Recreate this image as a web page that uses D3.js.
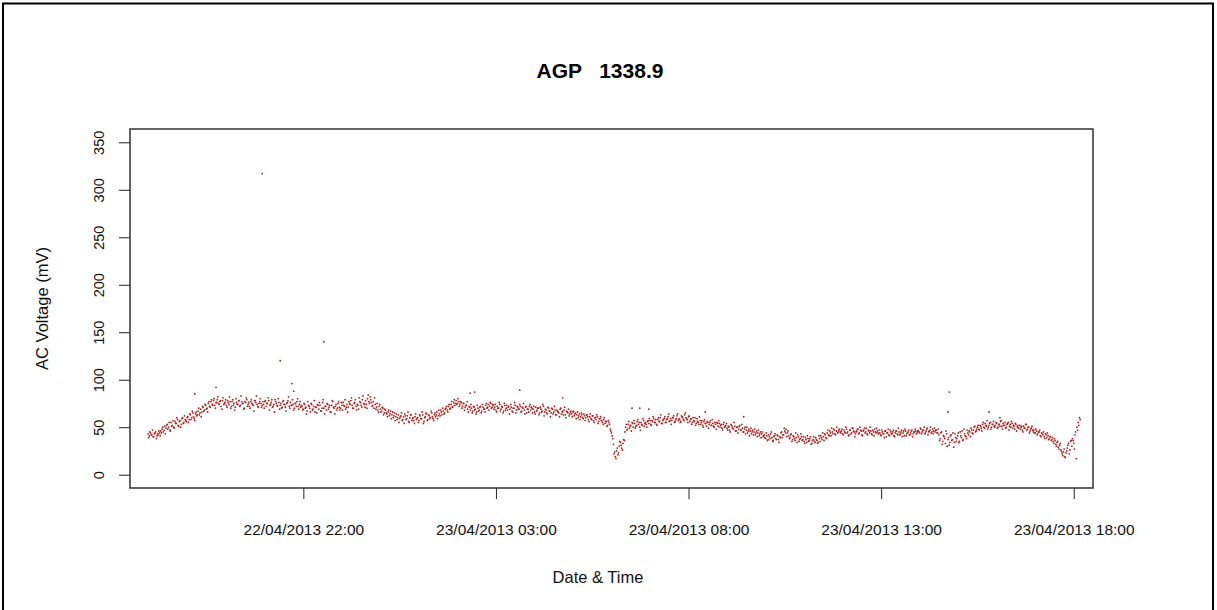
<!DOCTYPE html>
<html>
<head>
<meta charset="utf-8">
<script src="https://cdn.jsdelivr.net/npm/d3@7"></script>
<style>
  body { margin: 0; background: #fff; }
  svg text { font-family: "Liberation Sans", Arial, sans-serif; }
</style>
</head>
<body>
<div id="chart"></div>
<script>
// Readings on even minutes, every 2 minutes from 22/04/2013 17:58
const startEven = '22/04/2013 17:58';
const voltageEven = [
  43,41,44,42,40,43,45,41,42,44,46,48,45,51,49,53,50,47,55,52,50,56,54,58,51,57,53,60,55,58,
  56,61,58,63,60,65,59,64,62,67,63,69,66,71,68,73,70,75,72,77,74,78,73,76,79,75,77,72,78,74,
  76,73,78,74,77,72,79,75,71,76,74,78,73,77,75,70,76,79,74,72,77,75,73,78,76,74,71,77,75,73,
  74,77,72,75,78,73,76,71,74,79,75,72,76,73,70,77,74,71,75,78,72,76,73,74,70,75,77,72,74,71,
  72,69,74,71,67,73,70,75,68,72,66,71,74,69,73,67,76,70,72,68,74,71,66,73,77,70,72,68,75,71,
  70,73,76,72,69,74,71,75,78,73,70,76,72,74,69,77,73,79,75,71,74,80,77,82,76,73,70,74,71,68,
  72,69,67,70,65,68,64,66,62,67,63,60,65,61,58,63,59,62,57,61,64,58,62,56,60,63,59,57,61,58,
  60,57,62,59,63,56,61,64,58,62,60,65,59,63,61,66,62,64,68,63,67,65,70,68,72,69,74,71,76,73,
  78,75,77,74,76,72,75,71,73,69,72,68,70,67,71,69,66,70,68,72,67,71,69,73,70,74,72,75,71,73,
  71,68,72,70,74,69,71,67,73,70,68,72,69,71,66,70,73,68,71,69,72,67,70,68,71,65,69,72,68,70,
  69,66,71,68,70,65,69,67,72,66,68,64,70,67,65,69,66,68,63,67,65,69,64,66,68,63,67,65,62,66,
  64,66,62,65,63,60,64,61,63,59,62,60,63,58,61,59,62,57,60,58,61,56,59,57,55,58,54,56,52,55,
  48,44,38,22,19,25,21,30,34,28,33,36,50,47,53,49,52,55,50,54,51,56,53,50,55,52,57,54,53,56,
  54,57,52,56,59,55,53,58,56,60,54,57,59,55,58,61,56,59,57,60,55,58,62,57,59,56,61,58,63,60,
  58,61,56,59,55,57,60,54,56,53,57,55,52,56,54,51,55,53,57,52,54,50,53,55,51,54,52,49,53,50,
  52,49,51,47,53,50,48,51,46,50,48,52,47,49,45,50,47,44,48,46,43,47,45,42,46,44,41,45,43,40,
  42,38,41,37,40,43,39,36,41,38,42,37,40,44,39,42,46,48,44,41,39,43,37,40,36,39,42,35,38,40,
  37,35,39,34,38,36,40,33,37,35,39,36,34,38,41,37,40,43,39,44,42,46,41,45,48,43,46,44,47,45,
  46,43,47,44,48,45,42,47,44,49,45,43,46,48,44,47,42,46,49,45,43,47,44,46,42,45,48,44,46,43,
  44,41,45,43,46,40,44,42,47,43,45,41,44,46,42,45,43,47,44,41,46,43,45,42,44,47,43,45,46,44,
  46,44,48,45,47,43,46,49,45,47,44,48,46,45,47,44,42,38,45,35,40,33,43,37,31,41,36,44,34,39,
  38,44,35,41,46,37,43,40,47,42,45,49,44,47,51,46,50,48,52,49,53,50,54,51,48,52,55,50,53,51,
  52,54,50,53,56,51,54,52,49,53,55,51,50,54,52,48,53,51,49,52,50,47,51,49,53,48,50,46,49,47,
  47,44,46,43,45,41,44,42,40,43,39,41,38,40,37,35,38,32,34,29,31,26,22,24,19,23,28,33,26,36,
  38,33,42,17,47,52,58
];

// Readings on odd minutes, every 2 minutes from 22/04/2013 17:59
const startOdd = '22/04/2013 17:59';
const voltageOdd = [
  39,45,42,47,40,44,38,43,46,41,44,50,47,43,52,48,55,46,51,57,49,54,60,52,56,50,59,54,62,57,
  60,55,64,58,67,61,57,66,63,70,65,61,72,67,74,69,66,77,71,79,73,80,70,76,82,74,78,69,81,75,
  79,71,76,82,70,77,73,68,80,74,78,72,83,75,69,77,81,72,76,70,79,74,67,78,83,72,75,80,71,77,
  70,78,75,81,68,74,79,72,66,77,73,80,69,75,71,78,74,67,76,82,70,73,79,68,75,72,80,69,77,73,
  68,75,70,64,77,72,66,74,69,78,71,65,73,76,67,70,79,64,72,75,69,73,66,78,71,64,74,70,77,68,
  76,68,73,79,71,66,77,74,81,70,75,79,68,73,81,76,71,83,74,78,70,84,75,79,72,77,81,69,75,66,
  74,66,71,63,69,65,61,68,64,59,66,62,57,64,60,55,61,65,58,54,62,59,66,55,63,57,60,54,64,59,
  55,63,59,66,54,60,65,57,63,59,67,61,57,65,63,59,68,62,66,70,64,69,72,66,74,70,77,72,79,75,
  74,80,72,77,70,75,68,73,77,66,71,74,65,72,68,64,73,67,71,65,74,69,66,75,71,68,76,70,74,69,
  74,66,70,76,67,72,65,75,68,73,71,64,74,67,70,76,65,72,69,74,66,71,75,64,72,69,66,74,71,65,
  72,64,67,70,63,71,66,74,62,69,65,71,67,61,70,64,72,63,68,66,61,70,67,63,71,60,66,69,64,67,
  61,67,64,59,66,62,58,65,60,64,57,63,61,56,64,58,62,55,60,63,54,59,61,57,53,60,56,51,57,53,
  46,41,32,24,17,28,23,35,31,26,37,45,53,48,56,51,46,54,57,49,52,58,55,47,53,59,51,55,50,57,
  59,53,57,61,55,58,52,60,56,63,54,58,61,55,59,64,57,53,60,62,56,59,64,58,55,62,60,57,65,59,
  55,62,58,53,60,56,52,59,55,61,53,57,50,58,54,56,49,55,52,58,51,55,48,54,57,50,53,47,55,51,
  54,47,50,45,52,49,55,46,50,44,51,47,53,45,48,43,50,46,41,49,45,42,48,44,40,47,43,39,45,41,
  39,44,36,42,38,45,35,40,43,37,41,34,39,45,42,49,44,40,46,38,42,35,41,38,44,34,40,37,43,36,
  40,33,37,41,35,38,32,36,40,34,37,33,41,35,39,44,36,42,38,47,41,44,49,43,47,42,50,45,48,44,
  48,42,45,50,44,41,47,43,49,46,40,45,48,43,50,46,41,47,44,49,42,46,50,43,47,41,45,49,44,47,
  42,47,43,39,46,44,48,41,45,43,47,40,46,43,49,42,45,40,46,48,41,44,47,42,46,40,45,48,43,46,
  45,49,43,47,50,44,48,42,46,50,45,43,49,47,44,48,36,44,32,41,38,46,30,39,34,42,37,29,43,35,
  41,34,45,39,36,48,41,38,44,46,40,47,43,50,45,48,52,47,51,46,55,49,52,57,50,54,48,53,56,50,
  55,49,53,51,57,48,52,55,50,54,47,53,56,49,51,54,46,50,52,48,51,45,49,53,47,50,44,48,51,45,
  44,48,42,45,47,40,43,45,38,42,44,37,40,36,39,33,36,30,35,27,33,24,20,27,18,25,31,22,35,30,
  36,27,45,50,55,60
];
const stepMinutes = 2;

// Isolated readings off the main band
const spikeTimes = [
  '22/04/2013 19:11', '22/04/2013 19:44', '22/04/2013 20:56', '22/04/2013 21:24',
  '22/04/2013 21:42', '22/04/2013 21:45', '22/04/2013 22:32', '23/04/2013 02:20',
  '23/04/2013 02:27', '23/04/2013 03:37', '23/04/2013 04:44', '23/04/2013 06:32',
  '23/04/2013 06:44', '23/04/2013 06:58', '23/04/2013 08:26', '23/04/2013 09:26',
  '23/04/2013 14:44', '23/04/2013 14:46', '23/04/2013 15:48', '23/04/2013 16:05'
];
const spikeValues = [85, 92, 317, 120, 96, 88, 140, 86, 87, 89, 81, 70, 70, 69, 66, 61, 66, 87, 66, 60];

const xTickLabels = ['22/04/2013 22:00', '23/04/2013 03:00', '23/04/2013 08:00', '23/04/2013 13:00', '23/04/2013 18:00'];
const yTickValues = [0, 50, 100, 150, 200, 250, 300, 350];
const xRange = ['22/04/2013 17:30', '23/04/2013 18:30'];

const parse = d3.timeParse('%d/%m/%Y %H:%M');
const fmt = d3.timeFormat('%d/%m/%Y %H:%M');

const series = (start, vals) => {
  const t0 = parse(start);
  return vals.map((v, i) => ({ t: d3.timeMinute.offset(t0, i * stepMinutes), v }));
};
const points = series(startEven, voltageEven)
  .concat(series(startOdd, voltageOdd))
  .concat(spikeTimes.map((s, i) => ({ t: parse(s), v: spikeValues[i] })));

const W = 1217, H = 610;
const plot = { left: 130, right: 1093, top: 129, bottom: 488 };

const svg = d3.select('#chart')
  .append('svg')
  .attr('width', W)
  .attr('height', H);

// Outer frame
svg.append('rect')
  .attr('x', 3).attr('y', 3.5)
  .attr('width', 1210).attr('height', 640)
  .attr('fill', 'none')
  .attr('stroke', '#000')
  .attr('stroke-width', 2);

const x = d3.scaleTime()
  .domain(xRange.map(parse))
  .range([plot.left, plot.right]);

const y = d3.scaleLinear()
  .domain([-14, 364])
  .range([plot.bottom, plot.top]);

// Points
svg.append('g')
  .selectAll('circle')
  .data(points)
  .join('circle')
  .attr('cx', d => x(d.t))
  .attr('cy', d => y(d.v))
  .attr('r', 0.9)
  .attr('fill', '#b01e1e');

// X axis
const xAxis = svg.append('g')
  .attr('transform', `translate(0,${plot.bottom})`)
  .call(d3.axisBottom(x)
    .tickValues(xTickLabels.map(parse))
    .tickFormat(fmt)
    .tickSize(11)
    .tickSizeOuter(0));
xAxis.select('.domain').remove();
xAxis.selectAll('line').attr('stroke', '#222');
xAxis.selectAll('text')
  .attr('y', 47)
  .attr('dy', 0)
  .attr('font-size', '15.5px')
  .attr('font-family', '"Liberation Sans", Arial, sans-serif')
  .attr('fill', '#111');

// Y axis
const yAxis = svg.append('g')
  .attr('transform', `translate(${plot.left},0)`)
  .call(d3.axisLeft(y)
    .tickValues(yTickValues)
    .tickSize(11)
    .tickSizeOuter(0));
yAxis.select('.domain').remove();
yAxis.selectAll('line').attr('stroke', '#222');
yAxis.selectAll('text')
  .attr('transform', 'rotate(-90)')
  .attr('x', 0)
  .attr('y', -26)
  .attr('dy', 0)
  .attr('text-anchor', 'middle')
  .attr('font-size', '14.5px')
  .attr('font-family', '"Liberation Sans", Arial, sans-serif')
  .attr('fill', '#111');

// Plot box
svg.append('rect')
  .attr('x', plot.left).attr('y', plot.top)
  .attr('width', plot.right - plot.left)
  .attr('height', plot.bottom - plot.top)
  .attr('fill', 'none')
  .attr('stroke', '#333')
  .attr('stroke-width', 1.5);

// Titles
svg.append('text')
  .attr('x', 600)
  .attr('y', 78)
  .attr('text-anchor', 'middle')
  .attr('font-size', '21px')
  .attr('font-weight', 'bold')
  .style('white-space', 'pre')
  .text('AGP   1338.9');

svg.append('text')
  .attr('x', 598)
  .attr('y', 583)
  .attr('text-anchor', 'middle')
  .attr('font-size', '16.5px')
  .attr('fill', '#111')
  .text('Date & Time');

svg.append('text')
  .attr('transform', `translate(48,${(plot.top + plot.bottom) / 2}) rotate(-90)`)
  .attr('text-anchor', 'middle')
  .attr('font-size', '16.5px')
  .attr('fill', '#111')
  .text('AC Voltage (mV)');
</script>
</body>
</html>
